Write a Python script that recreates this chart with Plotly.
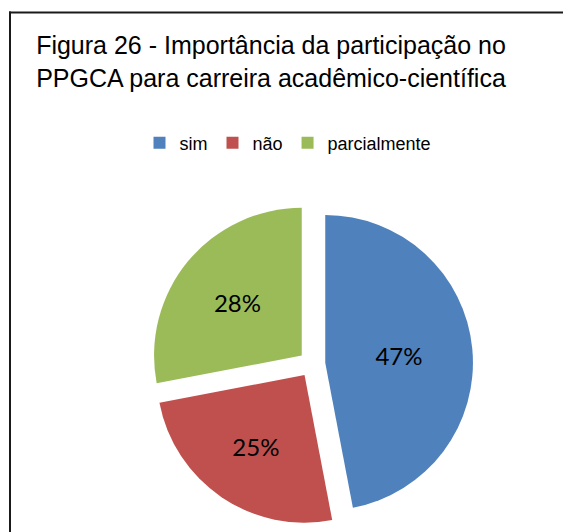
import plotly.graph_objects as go

labels = ["sim", "não", "parcialmente"]
values = [47, 25, 28]
colors = ["#4F81BD", "#C0504D", "#9BBB59"]
pulls = [0.09, 0.09, 0.09]

title_text = "Figura 26 - Importância da participação no<br>PPGCA para carreira acadêmico-científica"
sans = "Liberation Sans, Arial, sans-serif"

W, H = 563, 532


def fx(p):
    return p / W


def fy(p):
    return 1 - p / H


fig = go.Figure(go.Pie(
    labels=labels,
    values=values,
    marker=dict(colors=colors, line=dict(width=0)),
    pull=pulls,
    sort=False,
    direction="clockwise",
    rotation=0,
    textinfo="percent",
    texttemplate="%{percent:.0%}",
    textposition="inside",
    insidetextorientation="horizontal",
    textfont=dict(family="Lato, Open Sans, sans-serif", size=24, color="black"),
    domain=dict(x=[fx(151), fx(473)], y=[fy(525), fy(203)]),
    hoverinfo="label+percent",
))

frame = dict(color="#1a1a1a", width=2)

fig.update_layout(
    width=W, height=H,
    margin=dict(l=0, r=0, t=0, b=0),
    paper_bgcolor="white",
    plot_bgcolor="white",
    title=dict(
        text=title_text,
        x=fx(271), xanchor="center",
        y=fy(54), yanchor="top",
        font=dict(family=sans, size=25, color="black"),
    ),
    legend=dict(
        orientation="h",
        x=fx(288), xanchor="center",
        y=fy(143), yanchor="middle",
        font=dict(family=sans, size=18, color="black"),
        itemwidth=30,
        traceorder="normal",
    ),
    shapes=[
        dict(type="line", xref="paper", yref="paper",
             x0=fx(9), x1=1.02, y0=fy(12.5), y1=fy(12.5), line=frame, layer="above"),
        dict(type="line", xref="paper", yref="paper",
             x0=fx(10), x1=fx(10), y0=-0.02, y1=fy(11.5), line=frame, layer="above"),
    ],
    showlegend=True,
)

fig.write_html(
    "out.html",
    config={"displayModeBar": False},
    post_script="document.body.style.margin='0';document.body.style.overflow='hidden';",
)
